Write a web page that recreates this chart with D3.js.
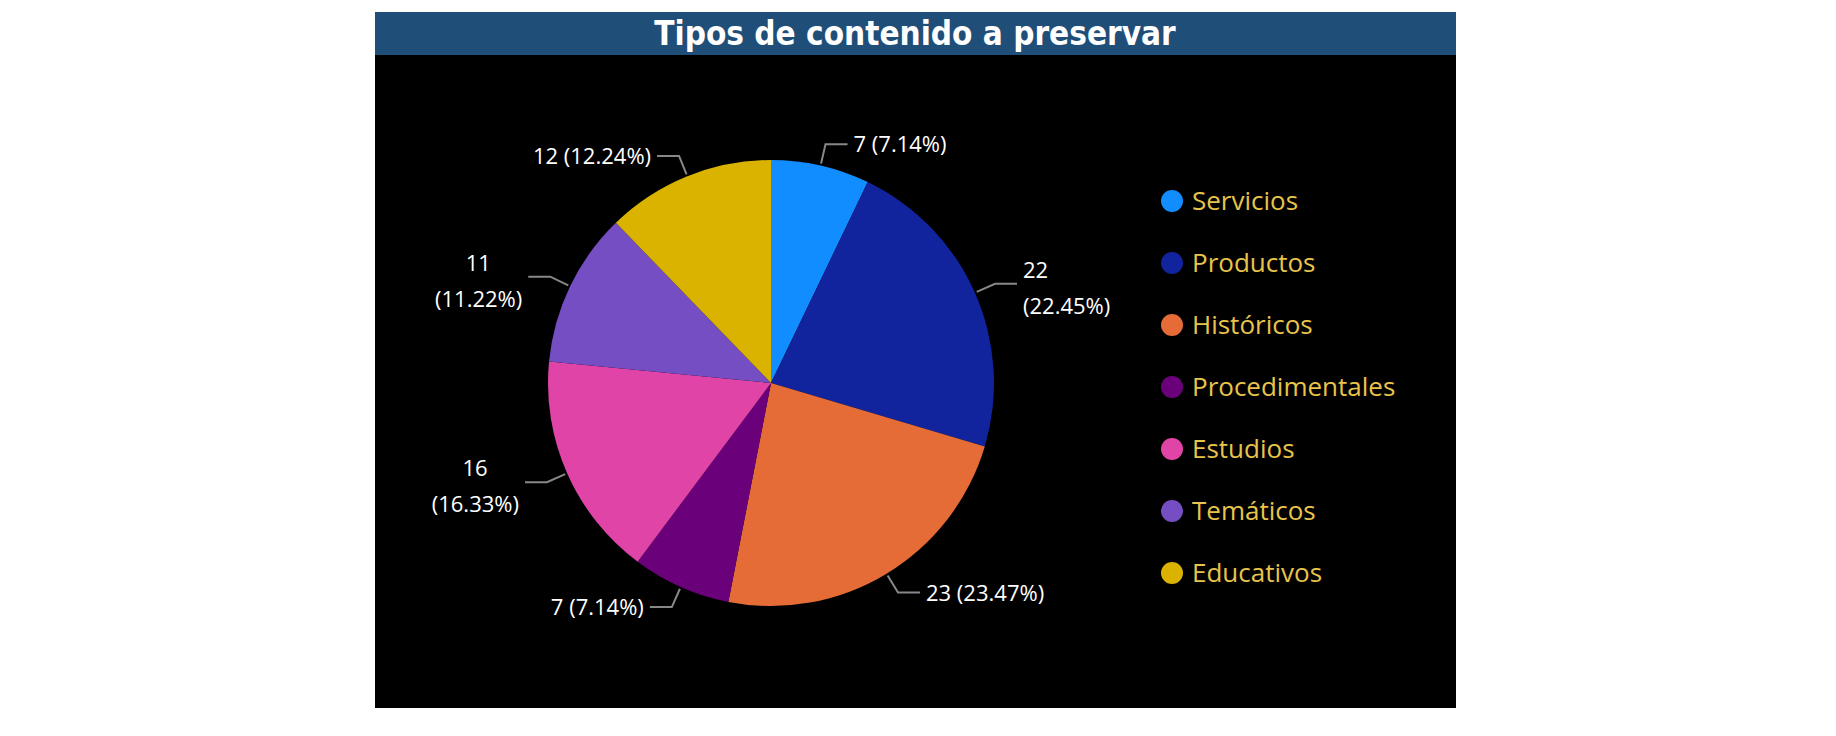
<!DOCTYPE html>
<html><head><meta charset="utf-8">
<script src="https://cdn.jsdelivr.net/npm/d3@7"></script>
<style>body{margin:0;background:#fff}svg{display:block}</style>
</head><body>
<svg id="chart" width="1836" height="736"></svg>
<script>
const categories = ["Servicios","Productos","Históricos","Procedimentales","Estudios","Temáticos","Educativos"];
const values = [7, 22, 23, 7, 16, 11, 12];
const colors = ["#118DFF","#12239E","#E66C37","#6B007B","#E044A7","#744EC2","#D9B300"];

const svg = d3.select("#chart");
const total = d3.sum(values);
const fmt = v => `${v} (${(v / total * 100).toFixed(2)}%)`;

// panel
svg.append("rect").attr("x", 375).attr("y", 12).attr("width", 1081).attr("height", 696).attr("fill", "#000");
svg.append("rect").attr("x", 375).attr("y", 12).attr("width", 1081).attr("height", 43).attr("fill", "#1F4E79");
svg.append("text").attr("x", 915).attr("y", 45).attr("text-anchor", "middle")
  .attr("fill", "#fff").attr("font-family", "DejaVu Sans Condensed, Liberation Sans Narrow, sans-serif")
  .attr("font-weight", "bold").attr("font-size", 33).text("Tipos de contenido a preservar");

const cx = 771, cy = 383, R = 223;
const pie = d3.pie().sort(null).value(d => d)(values);
const arc = d3.arc().innerRadius(0).outerRadius(R);
const g = svg.append("g").attr("transform", `translate(${cx},${cy})`);
g.selectAll("path").data(pie).join("path")
  .attr("d", arc).attr("fill", (d, i) => colors[i]);

// labels with leader lines; some labels wrap onto two lines like the original
const wrap = [false, true, false, false, true, true, false];
pie.forEach((d, i) => {
  const a = (d.startAngle + d.endAngle) / 2;
  const sx = Math.sin(a), sy = -Math.cos(a);
  const p0 = [sx * (R + 2), sy * (R + 2)];
  const p1 = [sx * (R + 22), sy * (R + 22)];
  const right = sx >= 0;
  const p2 = [p1[0] + (right ? 22 : -22), p1[1]];
  g.append("polyline").attr("points", [p0, p1, p2].map(p => p.join(",")).join(" "))
    .attr("fill", "none").attr("stroke", "#888").attr("stroke-width", 2);
  const t = g.append("text").attr("fill", "#fff").attr("font-family", "Open Sans, sans-serif")
    .attr("font-size", 22).attr("text-anchor", right ? "start" : "end");
  const tx = p2[0] + (right ? 6 : -6);
  if (wrap[i]) {
    const pct = `(${(values[i] / total * 100).toFixed(2)}%)`;
    t.append("tspan").attr("x", tx + (right ? 0 : -4)).attr("y", p2[1] - 6).attr("text-anchor", right ? "start" : "middle")
      .attr("dx", right ? 0 : -40).text(values[i]);
    t.append("tspan").attr("x", tx).attr("y", p2[1] + 30).text(pct);
  } else {
    t.attr("x", tx).attr("y", p2[1] + 8).text(fmt(values[i]));
  }
});

// legend
const lg = svg.append("g").attr("transform", "translate(1172,201)");
categories.forEach((c, i) => {
  const row = lg.append("g").attr("transform", `translate(0,${i * 62})`);
  row.append("circle").attr("r", 11).attr("fill", colors[i]);
  row.append("text").attr("x", 20).attr("y", 9).attr("fill", "#E8C44A")
    .attr("font-family", "Open Sans, sans-serif").attr("font-size", 26).text(c);
});
</script>
</body></html>
